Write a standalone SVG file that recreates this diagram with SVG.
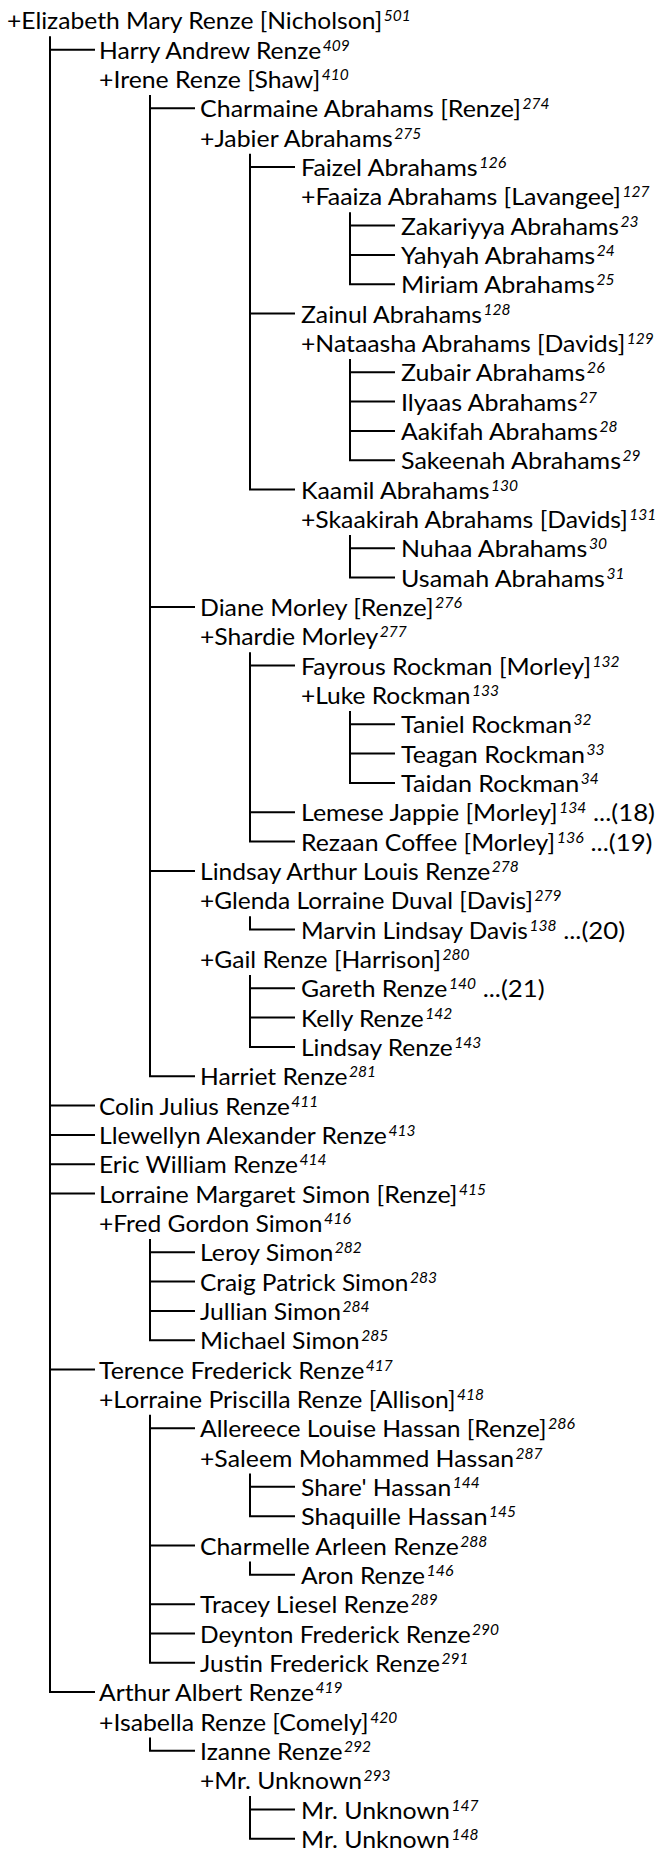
<svg xmlns="http://www.w3.org/2000/svg" width="659" height="1850" viewBox="0 0 659 1850">
<style>
text{font-family:Lato,"Liberation Sans",Arial,sans-serif;font-size:24px;fill:#000}
text.s{font-size:16px;font-style:italic}
.c path{fill:none;stroke:#000;stroke-width:2}
</style>
<rect width="659" height="1850" fill="#fff"/>
<g class="c" id="connectors">
<path d="M50 36.3V1692.1H95M50 49.7H95M50 1105.5H95M50 1134.9H95M50 1164.2H95M50 1193.5H95M50 1369.5H95"/>
<path d="M150 95V1076.2H195M150 108.3H195M150 606.9H195M150 870.9H195"/>
<path d="M250 153.7V489.6H295M250 167H295M250 313.6H295"/>
<path d="M350 212.3V284.3H395M350 225.6H395M350 255H395"/>
<path d="M350 359V460.3H395M350 372.3H395M350 401.6H395M350 431H395"/>
<path d="M350 534.9V577.6H395M350 548.3H395"/>
<path d="M250 652.3V841.6H295M250 665.6H295M250 812.2H295"/>
<path d="M350 710.9V782.9H395M350 724.3H395M350 753.6H395"/>
<path d="M250 916.2V929.6H295"/>
<path d="M250 974.9V1046.9H295M250 988.2H295M250 1017.6H295"/>
<path d="M150 1238.9V1340.2H195M150 1252.2H195M150 1281.5H195M150 1310.9H195"/>
<path d="M150 1414.8V1662.8H195M150 1428.2H195M150 1545.5H195M150 1604.2H195M150 1633.5H195"/>
<path d="M250 1473.5V1516.2H295M250 1486.8H295"/>
<path d="M250 1561.5V1574.8H295"/>
<path d="M150 1737.5V1750.8H195"/>
<path d="M250 1796.1V1838.8H295M250 1809.5H295"/>
</g>
<g id="n1"><text x="7" y="29.3" textLength="375.2" lengthAdjust="spacingAndGlyphs">+Elizabeth Mary Renze [Nicholson]</text><text class="s" x="383.7" y="21.3" textLength="27" lengthAdjust="spacingAndGlyphs">501</text></g>
<g id="n2"><text x="99" y="58.7" textLength="222.2" lengthAdjust="spacingAndGlyphs">Harry Andrew Renze</text><text class="s" x="322.7" y="50.7" textLength="27" lengthAdjust="spacingAndGlyphs">409</text></g>
<g id="n3"><text x="99" y="88" textLength="221.3" lengthAdjust="spacingAndGlyphs">+Irene Renze [Shaw]</text><text class="s" x="321.8" y="80" textLength="27" lengthAdjust="spacingAndGlyphs">410</text></g>
<g id="n4"><text x="200" y="117.3" textLength="320.9" lengthAdjust="spacingAndGlyphs">Charmaine Abrahams [Renze]</text><text class="s" x="522.4" y="109.3" textLength="27" lengthAdjust="spacingAndGlyphs">274</text></g>
<g id="n5"><text x="200" y="146.7" textLength="192.8" lengthAdjust="spacingAndGlyphs">+Jabier Abrahams</text><text class="s" x="394.3" y="138.7" textLength="27" lengthAdjust="spacingAndGlyphs">275</text></g>
<g id="n6"><text x="301" y="176" textLength="176.7" lengthAdjust="spacingAndGlyphs">Faizel Abrahams</text><text class="s" x="479.2" y="168" textLength="27" lengthAdjust="spacingAndGlyphs">126</text></g>
<g id="n7"><text x="301" y="205.3" textLength="319.9" lengthAdjust="spacingAndGlyphs">+Faaiza Abrahams [Lavangee]</text><text class="s" x="622.4" y="197.3" textLength="27" lengthAdjust="spacingAndGlyphs">127</text></g>
<g id="n8"><text x="401" y="234.6" textLength="218" lengthAdjust="spacingAndGlyphs">Zakariyya Abrahams</text><text class="s" x="620.5" y="226.6" textLength="18" lengthAdjust="spacingAndGlyphs">23</text></g>
<g id="n9"><text x="401" y="264" textLength="194.2" lengthAdjust="spacingAndGlyphs">Yahyah Abrahams</text><text class="s" x="596.7" y="256" textLength="18" lengthAdjust="spacingAndGlyphs">24</text></g>
<g id="n10"><text x="401" y="293.3" textLength="194" lengthAdjust="spacingAndGlyphs">Miriam Abrahams</text><text class="s" x="596.5" y="285.3" textLength="18" lengthAdjust="spacingAndGlyphs">25</text></g>
<g id="n11"><text x="301" y="322.6" textLength="181.1" lengthAdjust="spacingAndGlyphs">Zainul Abrahams</text><text class="s" x="483.6" y="314.6" textLength="27" lengthAdjust="spacingAndGlyphs">128</text></g>
<g id="n12"><text x="301" y="352" textLength="324.3" lengthAdjust="spacingAndGlyphs">+Nataasha Abrahams [Davids]</text><text class="s" x="626.8" y="344" textLength="27" lengthAdjust="spacingAndGlyphs">129</text></g>
<g id="n13"><text x="401" y="381.3" textLength="184.3" lengthAdjust="spacingAndGlyphs">Zubair Abrahams</text><text class="s" x="586.8" y="373.3" textLength="18" lengthAdjust="spacingAndGlyphs">26</text></g>
<g id="n14"><text x="401" y="410.6" textLength="176.5" lengthAdjust="spacingAndGlyphs">Ilyaas Abrahams</text><text class="s" x="579" y="402.6" textLength="18" lengthAdjust="spacingAndGlyphs">27</text></g>
<g id="n15"><text x="401" y="440" textLength="196.9" lengthAdjust="spacingAndGlyphs">Aakifah Abrahams</text><text class="s" x="599.4" y="432" textLength="18" lengthAdjust="spacingAndGlyphs">28</text></g>
<g id="n16"><text x="401" y="469.3" textLength="220" lengthAdjust="spacingAndGlyphs">Sakeenah Abrahams</text><text class="s" x="622.5" y="461.3" textLength="18" lengthAdjust="spacingAndGlyphs">29</text></g>
<g id="n17"><text x="301" y="498.6" textLength="188.5" lengthAdjust="spacingAndGlyphs">Kaamil Abrahams</text><text class="s" x="491" y="490.6" textLength="27" lengthAdjust="spacingAndGlyphs">130</text></g>
<g id="n18"><text x="301" y="527.9" textLength="326.8" lengthAdjust="spacingAndGlyphs">+Skaakirah Abrahams [Davids]</text><text class="s" x="629.3" y="519.9" textLength="27" lengthAdjust="spacingAndGlyphs">131</text></g>
<g id="n19"><text x="401" y="557.3" textLength="186.4" lengthAdjust="spacingAndGlyphs">Nuhaa Abrahams</text><text class="s" x="588.9" y="549.3" textLength="18" lengthAdjust="spacingAndGlyphs">30</text></g>
<g id="n20"><text x="401" y="586.6" textLength="203.9" lengthAdjust="spacingAndGlyphs">Usamah Abrahams</text><text class="s" x="606.4" y="578.6" textLength="18" lengthAdjust="spacingAndGlyphs">31</text></g>
<g id="n21"><text x="200" y="615.9" textLength="233.5" lengthAdjust="spacingAndGlyphs">Diane Morley [Renze]</text><text class="s" x="435" y="607.9" textLength="27" lengthAdjust="spacingAndGlyphs">276</text></g>
<g id="n22"><text x="200" y="645.3" textLength="178.2" lengthAdjust="spacingAndGlyphs">+Shardie Morley</text><text class="s" x="379.7" y="637.3" textLength="27" lengthAdjust="spacingAndGlyphs">277</text></g>
<g id="n23"><text x="301" y="674.6" textLength="290.1" lengthAdjust="spacingAndGlyphs">Fayrous Rockman [Morley]</text><text class="s" x="592.6" y="666.6" textLength="27" lengthAdjust="spacingAndGlyphs">132</text></g>
<g id="n24"><text x="301" y="703.9" textLength="169.5" lengthAdjust="spacingAndGlyphs">+Luke Rockman</text><text class="s" x="472" y="695.9" textLength="27" lengthAdjust="spacingAndGlyphs">133</text></g>
<g id="n25"><text x="401" y="733.3" textLength="170.9" lengthAdjust="spacingAndGlyphs">Taniel Rockman</text><text class="s" x="573.4" y="725.3" textLength="18" lengthAdjust="spacingAndGlyphs">32</text></g>
<g id="n26"><text x="401" y="762.6" textLength="184" lengthAdjust="spacingAndGlyphs">Teagan Rockman</text><text class="s" x="586.5" y="754.6" textLength="18" lengthAdjust="spacingAndGlyphs">33</text></g>
<g id="n27"><text x="401" y="791.9" textLength="178.2" lengthAdjust="spacingAndGlyphs">Taidan Rockman</text><text class="s" x="580.7" y="783.9" textLength="18" lengthAdjust="spacingAndGlyphs">34</text></g>
<g id="n28"><text x="301" y="821.2" textLength="256.7" lengthAdjust="spacingAndGlyphs">Lemese Jappie [Morley]</text><text class="s" x="559.2" y="813.2" textLength="27" lengthAdjust="spacingAndGlyphs">134</text><text x="593" y="821.2" textLength="62" lengthAdjust="spacingAndGlyphs">...(18)</text></g>
<g id="n29"><text x="301" y="850.6" textLength="254.2" lengthAdjust="spacingAndGlyphs">Rezaan Coffee [Morley]</text><text class="s" x="556.7" y="842.6" textLength="27" lengthAdjust="spacingAndGlyphs">136</text><text x="590.5" y="850.6" textLength="62" lengthAdjust="spacingAndGlyphs">...(19)</text></g>
<g id="n30"><text x="200" y="879.9" textLength="290.3" lengthAdjust="spacingAndGlyphs">Lindsay Arthur Louis Renze</text><text class="s" x="491.8" y="871.9" textLength="27" lengthAdjust="spacingAndGlyphs">278</text></g>
<g id="n31"><text x="200" y="909.2" textLength="332.9" lengthAdjust="spacingAndGlyphs">+Glenda Lorraine Duval [Davis]</text><text class="s" x="534.4" y="901.2" textLength="27" lengthAdjust="spacingAndGlyphs">279</text></g>
<g id="n32"><text x="301" y="938.6" textLength="226.9" lengthAdjust="spacingAndGlyphs">Marvin Lindsay Davis</text><text class="s" x="529.4" y="930.6" textLength="27" lengthAdjust="spacingAndGlyphs">138</text><text x="563.2" y="938.6" textLength="62" lengthAdjust="spacingAndGlyphs">...(20)</text></g>
<g id="n33"><text x="200" y="967.9" textLength="241" lengthAdjust="spacingAndGlyphs">+Gail Renze [Harrison]</text><text class="s" x="442.5" y="959.9" textLength="27" lengthAdjust="spacingAndGlyphs">280</text></g>
<g id="n34"><text x="301" y="997.2" textLength="146.4" lengthAdjust="spacingAndGlyphs">Gareth Renze</text><text class="s" x="448.9" y="989.2" textLength="27" lengthAdjust="spacingAndGlyphs">140</text><text x="482.7" y="997.2" textLength="62" lengthAdjust="spacingAndGlyphs">...(21)</text></g>
<g id="n35"><text x="301" y="1026.6" textLength="122.7" lengthAdjust="spacingAndGlyphs">Kelly Renze</text><text class="s" x="425.2" y="1018.6" textLength="27" lengthAdjust="spacingAndGlyphs">142</text></g>
<g id="n36"><text x="301" y="1055.9" textLength="151.8" lengthAdjust="spacingAndGlyphs">Lindsay Renze</text><text class="s" x="454.3" y="1047.9" textLength="27" lengthAdjust="spacingAndGlyphs">143</text></g>
<g id="n37"><text x="200" y="1085.2" textLength="147.6" lengthAdjust="spacingAndGlyphs">Harriet Renze</text><text class="s" x="349.1" y="1077.2" textLength="27" lengthAdjust="spacingAndGlyphs">281</text></g>
<g id="n38"><text x="99" y="1114.5" textLength="190.8" lengthAdjust="spacingAndGlyphs">Colin Julius Renze</text><text class="s" x="291.3" y="1106.5" textLength="27" lengthAdjust="spacingAndGlyphs">411</text></g>
<g id="n39"><text x="99" y="1143.9" textLength="287.9" lengthAdjust="spacingAndGlyphs">Llewellyn Alexander Renze</text><text class="s" x="388.4" y="1135.9" textLength="27" lengthAdjust="spacingAndGlyphs">413</text></g>
<g id="n40"><text x="99" y="1173.2" textLength="199.1" lengthAdjust="spacingAndGlyphs">Eric William Renze</text><text class="s" x="299.6" y="1165.2" textLength="27" lengthAdjust="spacingAndGlyphs">414</text></g>
<g id="n41"><text x="99" y="1202.5" textLength="358.5" lengthAdjust="spacingAndGlyphs">Lorraine Margaret Simon [Renze]</text><text class="s" x="459" y="1194.5" textLength="27" lengthAdjust="spacingAndGlyphs">415</text></g>
<g id="n42"><text x="99" y="1231.9" textLength="223.5" lengthAdjust="spacingAndGlyphs">+Fred Gordon Simon</text><text class="s" x="324" y="1223.9" textLength="27" lengthAdjust="spacingAndGlyphs">416</text></g>
<g id="n43"><text x="200" y="1261.2" textLength="133.3" lengthAdjust="spacingAndGlyphs">Leroy Simon</text><text class="s" x="334.8" y="1253.2" textLength="27" lengthAdjust="spacingAndGlyphs">282</text></g>
<g id="n44"><text x="200" y="1290.5" textLength="208.5" lengthAdjust="spacingAndGlyphs">Craig Patrick Simon</text><text class="s" x="410" y="1282.5" textLength="27" lengthAdjust="spacingAndGlyphs">283</text></g>
<g id="n45"><text x="200" y="1319.9" textLength="141" lengthAdjust="spacingAndGlyphs">Jullian Simon</text><text class="s" x="342.5" y="1311.9" textLength="27" lengthAdjust="spacingAndGlyphs">284</text></g>
<g id="n46"><text x="200" y="1349.2" textLength="159.7" lengthAdjust="spacingAndGlyphs">Michael Simon</text><text class="s" x="361.2" y="1341.2" textLength="27" lengthAdjust="spacingAndGlyphs">285</text></g>
<g id="n47"><text x="99" y="1378.5" textLength="265.3" lengthAdjust="spacingAndGlyphs">Terence Frederick Renze</text><text class="s" x="365.8" y="1370.5" textLength="27" lengthAdjust="spacingAndGlyphs">417</text></g>
<g id="n48"><text x="99" y="1407.8" textLength="356.6" lengthAdjust="spacingAndGlyphs">+Lorraine Priscilla Renze [Allison]</text><text class="s" x="457.1" y="1399.8" textLength="27" lengthAdjust="spacingAndGlyphs">418</text></g>
<g id="n49"><text x="200" y="1437.2" textLength="346.5" lengthAdjust="spacingAndGlyphs">Allereece Louise Hassan [Renze]</text><text class="s" x="548" y="1429.2" textLength="27" lengthAdjust="spacingAndGlyphs">286</text></g>
<g id="n50"><text x="200" y="1466.5" textLength="314.1" lengthAdjust="spacingAndGlyphs">+Saleem Mohammed Hassan</text><text class="s" x="515.6" y="1458.5" textLength="27" lengthAdjust="spacingAndGlyphs">287</text></g>
<g id="n51"><text x="301" y="1495.8" textLength="150.2" lengthAdjust="spacingAndGlyphs">Share' Hassan</text><text class="s" x="452.7" y="1487.8" textLength="27" lengthAdjust="spacingAndGlyphs">144</text></g>
<g id="n52"><text x="301" y="1525.2" textLength="186.5" lengthAdjust="spacingAndGlyphs">Shaquille Hassan</text><text class="s" x="489" y="1517.2" textLength="27" lengthAdjust="spacingAndGlyphs">145</text></g>
<g id="n53"><text x="200" y="1554.5" textLength="258.8" lengthAdjust="spacingAndGlyphs">Charmelle Arleen Renze</text><text class="s" x="460.3" y="1546.5" textLength="27" lengthAdjust="spacingAndGlyphs">288</text></g>
<g id="n54"><text x="301" y="1583.8" textLength="124.1" lengthAdjust="spacingAndGlyphs">Aron Renze</text><text class="s" x="426.6" y="1575.8" textLength="27" lengthAdjust="spacingAndGlyphs">146</text></g>
<g id="n55"><text x="200" y="1613.2" textLength="209.2" lengthAdjust="spacingAndGlyphs">Tracey Liesel Renze</text><text class="s" x="410.7" y="1605.2" textLength="27" lengthAdjust="spacingAndGlyphs">289</text></g>
<g id="n56"><text x="200" y="1642.5" textLength="270.6" lengthAdjust="spacingAndGlyphs">Deynton Frederick Renze</text><text class="s" x="472.1" y="1634.5" textLength="27" lengthAdjust="spacingAndGlyphs">290</text></g>
<g id="n57"><text x="200" y="1671.8" textLength="239.9" lengthAdjust="spacingAndGlyphs">Justin Frederick Renze</text><text class="s" x="441.4" y="1663.8" textLength="27" lengthAdjust="spacingAndGlyphs">291</text></g>
<g id="n58"><text x="99" y="1701.1" textLength="215.1" lengthAdjust="spacingAndGlyphs">Arthur Albert Renze</text><text class="s" x="315.6" y="1693.1" textLength="27" lengthAdjust="spacingAndGlyphs">419</text></g>
<g id="n59"><text x="99" y="1730.5" textLength="269.7" lengthAdjust="spacingAndGlyphs">+Isabella Renze [Comely]</text><text class="s" x="370.2" y="1722.5" textLength="27" lengthAdjust="spacingAndGlyphs">420</text></g>
<g id="n60"><text x="200" y="1759.8" textLength="142.5" lengthAdjust="spacingAndGlyphs">Izanne Renze</text><text class="s" x="344" y="1751.8" textLength="27" lengthAdjust="spacingAndGlyphs">292</text></g>
<g id="n61"><text x="200" y="1789.1" textLength="162.1" lengthAdjust="spacingAndGlyphs">+Mr. Unknown</text><text class="s" x="363.6" y="1781.1" textLength="27" lengthAdjust="spacingAndGlyphs">293</text></g>
<g id="n62"><text x="301" y="1818.5" textLength="148.9" lengthAdjust="spacingAndGlyphs">Mr. Unknown</text><text class="s" x="451.4" y="1810.5" textLength="27" lengthAdjust="spacingAndGlyphs">147</text></g>
<g id="n63"><text x="301" y="1847.8" textLength="148.9" lengthAdjust="spacingAndGlyphs">Mr. Unknown</text><text class="s" x="451.4" y="1839.8" textLength="27" lengthAdjust="spacingAndGlyphs">148</text></g>
</svg>
